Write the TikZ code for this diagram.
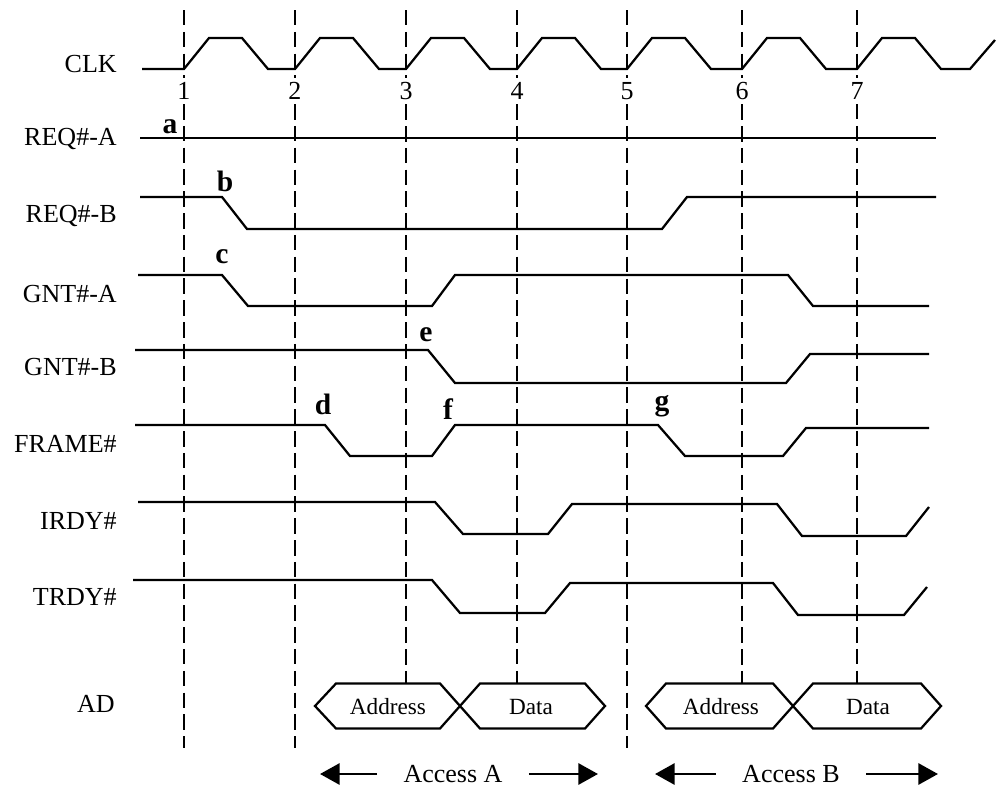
\documentclass[tikz,border=0pt]{standalone}
\usepackage{fontspec}
\setmainfont{Liberation Serif}
\usepackage{tikz}
\usetikzlibrary{arrows.meta}
\tikzset{wave/.style={line width=1.6pt, line join=miter}}
\tikzset{guide/.style={line width=1.1pt, dash pattern=on 11pt off 4.5pt}}
\tikzset{siglabel/.style={anchor=east, inner sep=0pt, font=\fontsize{18.5}{20}\selectfont}}
\tikzset{evt/.style={anchor=base, inner sep=0pt, font=\fontsize{21}{23}\selectfont\bfseries}}
\tikzset{clknum/.style={inner sep=3pt, font=\fontsize{18.5}{20}\selectfont}}
\tikzset{busname/.style={font=\fontsize{16.5}{18}\selectfont}}
\tikzset{acclabel/.style={inner sep=0pt, font=\fontsize{18.5}{20}\selectfont}}
\tikzset{accarrow/.style={-{Triangle[length=14pt,width=15pt]}, line width=2pt, shorten <=0.65cm}}

\begin{document}
\begin{tikzpicture}[x=0.025cm, y=-0.025cm]
    \useasboundingbox (0,0) rectangle (1000,789);

    \foreach \x/\b [count=\i] in {184/748,295/748,406/684,517/684,627/748,742/684,857/684}{
        \node[clknum] at (\x,91) (n\i){\i};
        \draw[guide] (\x,10) -- (n\i.north) (n\i.south) -- (\x,\b);
    }

    \node[siglabel] at (117,64) (clk){CLK};
    \node[siglabel] at (117,139) (reqa){REQ\#-A};
    \node[siglabel] at (117,216) (reqb){REQ\#-B};
    \node[siglabel] at (117,294) (gnta){GNT\#-A};
    \node[siglabel] at (117,367) (gntb){GNT\#-B};
    \node[siglabel] at (117,444) (frame){FRAME\#};
    \node[siglabel] at (117,521) (irdy){IRDY\#};
    \node[siglabel] at (117,597) (trdy){TRDY\#};
    \node[siglabel] at (115,704) (ad){AD};

    \draw[wave] (142,69) \foreach \e in {184,295,406,517,627,742,857}{ -- (\e,69) -- (\e+25,38) -- (\e+58,38) -- (\e+84,69) } -- (970,69) -- (995,40);
    \draw[wave] (140,138) -- (936,138);
    \draw[wave] (140,197) -- (222,197) -- (247,229) -- (662,229) -- (687,197) -- (936,197);
    \draw[wave] (138,275) -- (222,275) -- (248,306) -- (432,306) -- (455,275) -- (788,275) -- (813,306) -- (929,306);
    \draw[wave] (135,350) -- (428,350) -- (455,383) -- (786,383) -- (810,354) -- (929,354);
    \draw[wave] (135,425) -- (325,425) -- (350,456) -- (432,456) -- (455,425) -- (658,425) -- (685,456) -- (783,456) -- (806,428) -- (929,428);
    \draw[wave] (138,502) -- (435,502) -- (463,534) -- (548,534) -- (572,504) -- (777,504) -- (802,536) -- (906,536) -- (929,507);
    \draw[wave] (133,580) -- (432,580) -- (460,613) -- (545,613) -- (570,583) -- (773,583) -- (798,615) -- (904,615) -- (927,587);

    \node[evt] at (170,133) (a){a};
    \node[evt] at (225,191) (b){b};
    \node[evt] at (222,263) (c){c};
    \node[evt] at (323,414) (d){d};
    \node[evt] at (426,341) (e){e};
    \node[evt] at (448,419) (f){f};
    \node[evt] at (662,410) (g){g};

    \draw[wave] (315,706) -- (336,683.5) -- (440,683.5) -- (480,728.5) -- (585,728.5) -- (605,706) -- (585,683.5) -- (480,683.5) -- (440,728.5) -- (336,728.5) -- cycle;
    \draw[wave] (646,706) -- (666,683.5) -- (773,683.5) -- (813,728.5) -- (921,728.5) -- (941,706) -- (921,683.5) -- (813,683.5) -- (773,728.5) -- (666,728.5) -- cycle;
    \node[busname] at (388,707) (addra){Address};
    \node[busname] at (531,707) (dataa){Data};
    \node[busname] at (721,707) (addrb){Address};
    \node[busname] at (868,707) (datab){Data};

    \node[acclabel] at (453,774) (acca){Access A};
    \coordinate (accal) at (320,774);
    \coordinate (accar) at (598,774);
    \draw[accarrow] (acca) -- (accal);
    \draw[accarrow] (acca) -- (accar);

    \node[acclabel] at (791,774) (accb){Access B};
    \coordinate (accbl) at (655,774);
    \coordinate (accbr) at (938,774);
    \draw[accarrow] (accb) -- (accbl);
    \draw[accarrow] (accb) -- (accbr);
\end{tikzpicture}
\end{document}
